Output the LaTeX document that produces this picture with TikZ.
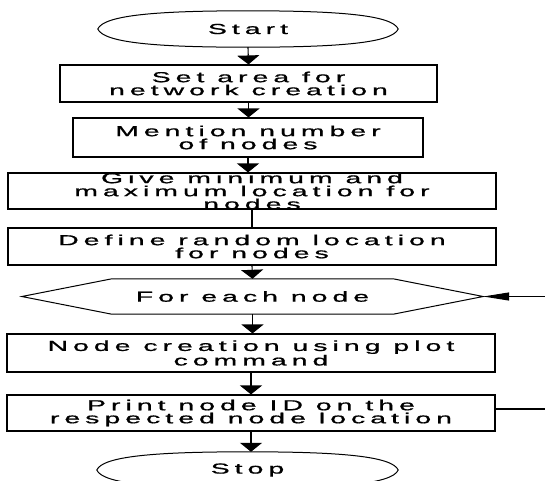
\documentclass[tikz,border=0pt]{standalone}
\usepackage{graphicx}
\usepackage{fontspec}
\setmainfont{Liberation Sans}[LetterSpace=18, FakeBold=0.8]
\usetikzlibrary{arrows.meta,calc}
% widened line of flowchart text
\newcommand\wl[1]{\scalebox{1.95}[1]{#1}}
\begin{document}
\begin{tikzpicture}[x=1pt,y=-1pt,
  every node/.style={font=\fontsize{14.5}{13}\selectfont, align=center},
  stepbox/.style={draw, line width=1.1pt, rectangle, inner xsep=0pt, inner ysep=0pt},
  plain/.style={inner sep=0pt, minimum width=#1},
  flow/.style={line width=1.1pt, -{Triangle[width=22pt,length=9pt]}},
  link/.style={line width=1.1pt},
  back/.style={line width=1pt, -{Triangle[width=8pt,length=26pt]}}]
\useasboundingbox (0,0) rectangle (545,480);

% terminals
\node[plain=300, minimum height=36] (start) at (248,29) {\wl{Start}};
\draw[line width=1pt] (start.west)
  .. controls ($(start.west)+(6,-14)$) and ($(start.north west)+(60,0)$) .. (start.north)
  .. controls ($(start.north east)+(-60,0)$) and ($(start.east)+(-6,-14)$) .. (start.east)
  .. controls ($(start.east)+(-6,14)$) and ($(start.south east)+(-60,0)$) .. (start.south)
  .. controls ($(start.south west)+(60,0)$) and ($(start.west)+(6,14)$) .. (start.west) -- cycle;

\node[stepbox, minimum width=377, minimum height=37] (area) at (248.5,83.5) {\wl{Set area for}\\\wl{network creation}};
\node[stepbox, minimum width=350, minimum height=39] (count) at (248,137.5) {\wl{Mention number}\\\wl{of nodes}};
\node[stepbox, minimum width=488, minimum height=36, inner ysep=-5pt] (range) at (252,191) {\wl{Give minimum and}\\\wl{maximum location for}\\\wl{nodes}};
\node[stepbox, minimum width=488, minimum height=37] (random) at (252,246.5) {\wl{Define random location}\\\wl{for nodes}};

% loop hexagon
\node[plain=461, minimum height=35] (loop) at (252.5,296.5) {\wl{For each node}};
\draw[line width=1pt] (loop.west) -- ($(loop.north west)+(90,0)$) -- ($(loop.north east)+(-90,0)$)
  -- (loop.east) -- ($(loop.south east)+(-90,0)$) -- ($(loop.south west)+(90,0)$) -- cycle;

\node[stepbox, minimum width=488, minimum height=38] (plot) at (251,353) {\wl{Node creation using plot}\\\wl{command}};
\node[stepbox, minimum width=488, minimum height=36] (print) at (251,413) {\wl{Print node ID on the}\\\wl{respected node location}};

\node[plain=301, minimum height=36] (stop) at (247.5,470) {\wl{Stop}};
\draw[line width=1pt] (stop.west)
  .. controls ($(stop.west)+(6,-14)$) and ($(stop.north west)+(60,0)$) .. (stop.north)
  .. controls ($(stop.north east)+(-60,0)$) and ($(stop.east)+(-6,-14)$) .. (stop.east)
  .. controls ($(stop.east)+(-6,14)$) and ($(stop.south east)+(-60,0)$) .. (stop.south)
  .. controls ($(stop.south west)+(60,0)$) and ($(stop.west)+(6,14)$) .. (stop.west) -- cycle;

% connectors
\draw[flow] (start.south) -- (area.north);
\draw[flow] (area.south) -- (area.south |- count.north);
\draw[flow] (count.south) -- (count.south |- range.north);
\draw[link] (range.south) -- (random.north);
\draw[flow] (random.south) -- (loop.north);
\draw[flow] (loop.south) -- (loop.south |- plot.north);
\draw[flow] (plot.south) -- (print.north);
\draw[flow] (print.south) -- (print.south |- stop.north);

% loop-back ends
\coordinate (backin) at (545,296.5);
\coordinate (backout) at (545,409);
\draw[back] (backin) -- (loop.east);
\draw[link] (print.east |- backout) -- (backout);
\end{tikzpicture}
\end{document}
